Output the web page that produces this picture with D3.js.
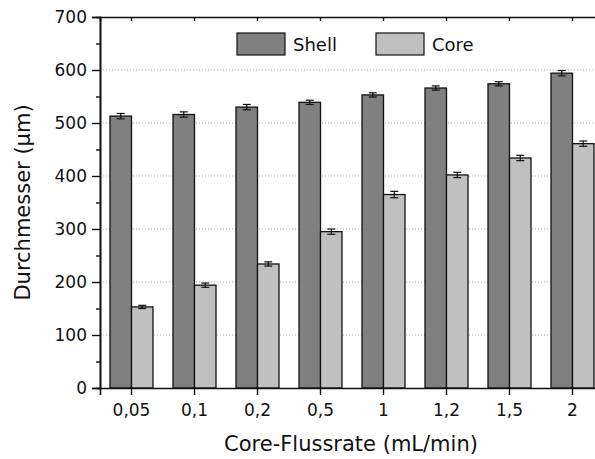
<!DOCTYPE html>
<html>
<head>
<meta charset="utf-8">
<script src="https://cdn.jsdelivr.net/npm/d3@7"></script>
<style>
  body { margin: 0; background: #fff; }
  text { font-family: "DejaVu Sans", sans-serif; fill: #111; }
</style>
</head>
<body>
<svg id="chart" width="595" height="459"></svg>
<script>
  const categories = ['0,05', '0,1', '0,2', '0,5', '1', '1,2', '1,5', '2'];
  const shellValues = [513, 516, 530, 539, 553, 566, 574, 594];
  const shellErrors = [5, 5, 5, 4, 4, 4, 4, 5];
  const coreValues = [153, 194, 234, 295, 365, 402, 434, 461];
  const coreErrors = [3, 4, 4, 5, 6, 5, 5, 5];
  const seriesNames = ['Shell', 'Core'];
  const yTicks = [0, 100, 200, 300, 400, 500, 600, 700];

  const svg = d3.select('#chart');
  const margin = { top: 17, left: 100 };
  const width = 504, height = 371;
  const g = svg.append('g').attr('transform', `translate(${margin.left},${margin.top})`);

  const x = d3.scaleBand().domain(categories).range([0, width]);
  const xSub = d3.scaleBand().domain(seriesNames).range([x.bandwidth() / 2 - 21.5, x.bandwidth() / 2 + 21.5]);
  const y = d3.scaleLinear().domain([0, 700]).range([height, 0]);
  const colors = { Shell: '#808080', Core: '#c0c0c0' };

  // gridlines
  g.selectAll('.grid').data(yTicks.filter(t => t > 0 && t < 700))
    .enter().append('line')
    .attr('x1', 0).attr('x2', width)
    .attr('y1', d => y(d)).attr('y2', d => y(d))
    .attr('stroke', '#aaa').attr('stroke-width', 1).attr('stroke-dasharray', '1,2');

  const rows = categories.map((c, i) => ({ cat: c, values: [
    { s: 'Shell', v: shellValues[i], e: shellErrors[i] },
    { s: 'Core', v: coreValues[i], e: coreErrors[i] }
  ]}));

  const grp = g.selectAll('.grp').data(rows).enter().append('g')
    .attr('transform', d => `translate(${x(d.cat)},0)`);

  grp.selectAll('rect').data(d => d.values).enter().append('rect')
    .attr('x', d => xSub(d.s))
    .attr('width', xSub.bandwidth())
    .attr('y', d => y(d.v))
    .attr('height', d => y(0) - y(d.v))
    .attr('fill', d => colors[d.s])
    .attr('stroke', '#111').attr('stroke-width', 1.3);

  const err = grp.selectAll('.err').data(d => d.values).enter().append('g')
    .attr('stroke', '#111').attr('stroke-width', 1.2);
  const cx = d => xSub(d.s) + xSub.bandwidth() / 2;
  err.append('line').attr('x1', cx).attr('x2', cx)
    .attr('y1', d => y(d.v + d.e)).attr('y2', d => y(d.v - d.e));
  err.append('line').attr('x1', d => cx(d) - 4).attr('x2', d => cx(d) + 4)
    .attr('y1', d => y(d.v + d.e)).attr('y2', d => y(d.v + d.e));
  err.append('line').attr('x1', d => cx(d) - 4).attr('x2', d => cx(d) + 4)
    .attr('y1', d => y(d.v - d.e)).attr('y2', d => y(d.v - d.e));

  // left axis
  g.append('g')
    .call(d3.axisLeft(y).tickValues(yTicks).tickSize(8).tickPadding(5));
  g.append('g')
    .call(d3.axisLeft(y).tickValues(d3.range(50, 700, 100)).tickSize(4).tickFormat(''));
  // bottom axis
  g.append('g').attr('transform', `translate(0,${height})`)
    .call(d3.axisBottom(x).tickSize(7).tickPadding(9));
  // top axis
  g.append('g')
    .call(d3.axisTop(x).tickSize(-4).tickFormat(''));

  g.selectAll('.domain').attr('stroke', '#111').attr('stroke-width', 1.6);
  g.selectAll('.tick line').attr('stroke', '#111').attr('stroke-width', 1.4);
  g.selectAll('.tick text').attr('font-size', '17px')
    .style('font-family', '"DejaVu Sans", sans-serif').attr('fill', '#111');

  // axis titles
  svg.append('text')
    .attr('transform', `translate(30,${margin.top + height / 2}) rotate(-90)`)
    .attr('text-anchor', 'middle').attr('font-size', '21px')
    .text('Durchmesser (µm)');
  svg.append('text')
    .attr('x', margin.left + width / 2 - 1).attr('y', 451)
    .attr('text-anchor', 'middle').attr('font-size', '21px')
    .text('Core-Flussrate (mL/min)');

  // legend
  const legend = svg.append('g');
  const legendX = [237, 376];
  seriesNames.forEach((s, i) => {
    legend.append('rect')
      .attr('x', legendX[i]).attr('y', 33).attr('width', 48).attr('height', 22)
      .attr('fill', colors[s]).attr('stroke', '#111').attr('stroke-width', 1.2);
    legend.append('text')
      .attr('x', legendX[i] + 56).attr('y', 51).attr('font-size', '18px')
      .text(s);
  });
</script>
</body>
</html>
